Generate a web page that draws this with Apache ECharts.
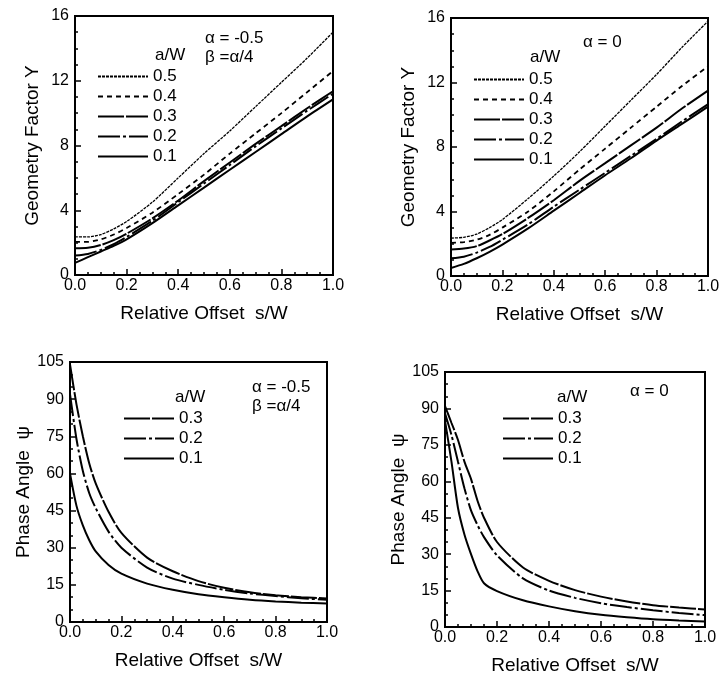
<!DOCTYPE html>
<html>
<head>
<meta charset="utf-8">
<script src="https://cdn.jsdelivr.net/npm/echarts@6/dist/echarts.min.js"></script>
<style>
html,body{margin:0;padding:0;background:#fff;}
#c{width:725px;height:676px;}
</style>
</head>
<body>
<div id="c"></div>
<script>
// ---------- data ----------
const sTop = [0, 0.05, 0.1, 0.15, 0.2, 0.3, 0.4, 0.5, 0.6, 0.7, 0.8, 0.9, 1.0];
// top-left: alpha = -0.5, beta = alpha/4
const tl05 = [2.35, 2.35, 2.5, 2.85, 3.3, 4.5, 6.0, 7.5, 8.9, 10.4, 11.9, 13.4, 15.0];
const tl04 = [2.05, 2.05, 2.2, 2.5, 2.9, 3.85, 5.0, 6.2, 7.5, 8.75, 10.0, 11.3, 12.6];
const tl03 = [1.65, 1.68, 1.85, 2.15, 2.55, 3.5, 4.6, 5.8, 6.95, 8.1, 9.2, 10.3, 11.35];
const tl02 = [1.2, 1.3, 1.55, 1.9, 2.35, 3.35, 4.5, 5.65, 6.8, 7.95, 9.05, 10.15, 11.2];
const tl01 = [0.75, 1.1, 1.45, 1.8, 2.2, 3.2, 4.3, 5.4, 6.5, 7.6, 8.7, 9.8, 10.85];
// top-right: alpha = 0
const tr05 = [2.35, 2.4, 2.6, 3.0, 3.5, 4.8, 6.2, 7.7, 9.3, 10.9, 12.5, 14.2, 15.8];
const tr04 = [2.05, 2.1, 2.25, 2.55, 3.0, 4.0, 5.25, 6.6, 7.9, 9.2, 10.5, 11.8, 13.0];
const tr03 = [1.65, 1.7, 1.85, 2.2, 2.6, 3.6, 4.7, 5.9, 7.0, 8.1, 9.2, 10.4, 11.5];
const tr02 = [1.1, 1.2, 1.45, 1.8, 2.25, 3.2, 4.3, 5.35, 6.4, 7.45, 8.5, 9.6, 10.65];
const tr01 = [0.5, 0.75, 1.1, 1.5, 1.95, 2.95, 4.05, 5.15, 6.25, 7.3, 8.4, 9.45, 10.5];

const sBL = [0, 0.025, 0.05, 0.075, 0.1, 0.15, 0.2, 0.3, 0.4, 0.5, 0.6, 0.7, 0.8, 0.9, 1.0];
const bl03 = [104, 88, 75, 64, 56, 44.5, 36, 26, 20.5, 16.5, 13.8, 12, 10.8, 10, 9.5];
const bl02 = [92, 74, 61, 52, 46, 36.5, 30, 22, 17.5, 15, 13, 11.5, 10.5, 9.6, 9.0];
const bl01 = [60, 47, 39, 33, 28.5, 23, 19.5, 15.5, 13, 11.2, 10, 9, 8.3, 7.8, 7.5];

const sBR = [0, 0.025, 0.05, 0.075, 0.1, 0.125, 0.15, 0.2, 0.3, 0.4, 0.5, 0.6, 0.7, 0.8, 0.9, 1.0];
const br03 = [91, 84, 77, 68, 61, 52, 45, 35, 24.5, 19, 15.2, 12.5, 10.5, 9, 8, 7.2];
const br02 = [88, 79, 68, 57, 48, 42, 37, 29.5, 20, 15, 12, 9.8, 8.2, 6.9, 5.8, 4.9];
const br01 = [85, 68, 49, 38, 30, 23, 18, 14.8, 11, 8.5, 6.5, 5, 4, 3.2, 2.7, 2.3];

const namesTop = ['0.5', '0.4', '0.3', '0.2', '0.1'];
const namesBot = ['0.3', '0.2', '0.1'];
const xName = 'Relative Offset  s/W';
const yNameTop = 'Geometry Factor Y';
const yNameBot = 'Phase Angle  \u03C8';

// ---------- styles ----------
const FONT = 'Liberation Sans, Arial, Helvetica, sans-serif';
const lineStyles = {
  '0.5': {width: 1.3, type: [3, 1]},
  '0.4': {width: 1.8, type: [5, 4]},
  '0.3': {width: 2, type: [26, 2]},
  '0.2': {width: 2, type: [22, 3, 3, 3]},
  '0.1': {width: 2, type: 'solid'}
};
const grids = [
  {left: 75, top: 16, width: 258, height: 259},
  {left: 451, top: 18, width: 257, height: 258},
  {left: 70, top: 362, width: 257, height: 260},
  {left: 445, top: 372, width: 260, height: 255}
];

function xAxis(gi) {
  return {
    type: 'value', gridIndex: gi, min: 0, max: 1, interval: 0.2,
    name: xName, nameLocation: 'middle', nameGap: 29,
    nameTextStyle: {fontFamily: FONT, fontSize: 19, color: '#000'},
    axisLine: {show: true, lineStyle: {color: '#000', width: 2}},
    axisTick: {show: true, inside: true, length: 6, lineStyle: {color: '#000', width: 1.5}},
    minorTick: {show: true, splitNumber: 4, length: 3, lineStyle: {color: '#000', width: 1.5}},
    splitLine: {show: false},
    axisLabel: {fontFamily: FONT, fontSize: 16, color: '#000', margin: 3,
      formatter: v => v.toFixed(1)}
  };
}
function yAxis(gi, max, interval, minorSplit, name, gap) {
  return {
    type: 'value', gridIndex: gi, min: 0, max: max, interval: interval,
    name: name, nameLocation: 'middle', nameGap: gap, nameRotate: 90,
    nameTextStyle: {fontFamily: FONT, fontSize: 19, color: '#000'},
    axisLine: {show: true, lineStyle: {color: '#000', width: 2}},
    axisTick: {show: true, inside: true, length: 6, lineStyle: {color: '#000', width: 1.5}},
    minorTick: {show: true, splitNumber: minorSplit, length: 3, lineStyle: {color: '#000', width: 1.5}},
    splitLine: {show: false},
    axisLabel: {fontFamily: FONT, fontSize: 16, color: '#000', margin: 6}
  };
}
function mk(name, gi, xs, ys) {
  return {
    type: 'line', name: name, xAxisIndex: gi, yAxisIndex: gi,
    data: xs.map((x, i) => [x, ys[i]]),
    showSymbol: false, symbol: 'none', smooth: 0.25,
    lineStyle: Object.assign({color: '#000'}, lineStyles[name]),
    itemStyle: {color: '#000'},
    emphasis: {disabled: true}, animation: false, z: 3
  };
}
function legend(names, left, top) {
  return {
    data: names, orient: 'vertical', left: left, top: top,
    itemWidth: 50, itemHeight: 16, itemGap: 3, padding: 0,
    selectedMode: false,
    itemStyle: {opacity: 0, borderWidth: 0},
    textStyle: {fontFamily: FONT, fontSize: 17, color: '#000', lineHeight: 16, padding: [0, 0, 0, 0]}
  };
}
function txt(x, y, s) {
  return {type: 'text', left: x, top: y, z: 10,
    style: {text: s, font: '17px ' + FONT, fill: '#000'}};
}

const series = [
  mk('0.5', 0, sTop, tl05), mk('0.4', 0, sTop, tl04), mk('0.3', 0, sTop, tl03),
  mk('0.2', 0, sTop, tl02), mk('0.1', 0, sTop, tl01),
  mk('0.5', 1, sTop, tr05), mk('0.4', 1, sTop, tr04), mk('0.3', 1, sTop, tr03),
  mk('0.2', 1, sTop, tr02), mk('0.1', 1, sTop, tr01),
  mk('0.3', 2, sBL, bl03), mk('0.2', 2, sBL, bl02), mk('0.1', 2, sBL, bl01),
  mk('0.3', 3, sBR, br03), mk('0.2', 3, sBR, br02), mk('0.1', 3, sBR, br01)
];

const option = {
  backgroundColor: '#fff',
  animation: false,
  grid: grids.map(g => Object.assign({show: true, borderColor: '#000', borderWidth: 2, backgroundColor: 'transparent'}, g)),
  xAxis: [xAxis(0), xAxis(1), xAxis(2), xAxis(3)],
  yAxis: [
    yAxis(0, 16, 4, 4, yNameTop, 33), yAxis(1, 16, 4, 4, yNameTop, 33),
    yAxis(2, 105, 15, 3, yNameBot, 36), yAxis(3, 105, 15, 3, yNameBot, 36)
  ],
  legend: [
    legend(namesTop, 97, 68),
    legend(namesTop, 473, 71),
    legend(namesBot, 123, 410),
    legend(namesBot, 502, 410)
  ],
  graphic: [
    txt(205, 30, '\u03B1 = -0.5'), txt(205, 49, '\u03B2 =\u03B1/4'), txt(155, 47, 'a/W'),
    txt(583, 34, '\u03B1 = 0'), txt(530, 49, 'a/W'),
    txt(252, 379, '\u03B1 = -0.5'), txt(252, 398, '\u03B2 =\u03B1/4'), txt(175, 389, 'a/W'),
    txt(630, 383, '\u03B1 = 0'), txt(557, 389, 'a/W')
  ],
  series: series
};
const chart = echarts.init(document.getElementById('c'), null, {renderer: 'canvas'});
chart.setOption(option);
</script>
</body>
</html>
